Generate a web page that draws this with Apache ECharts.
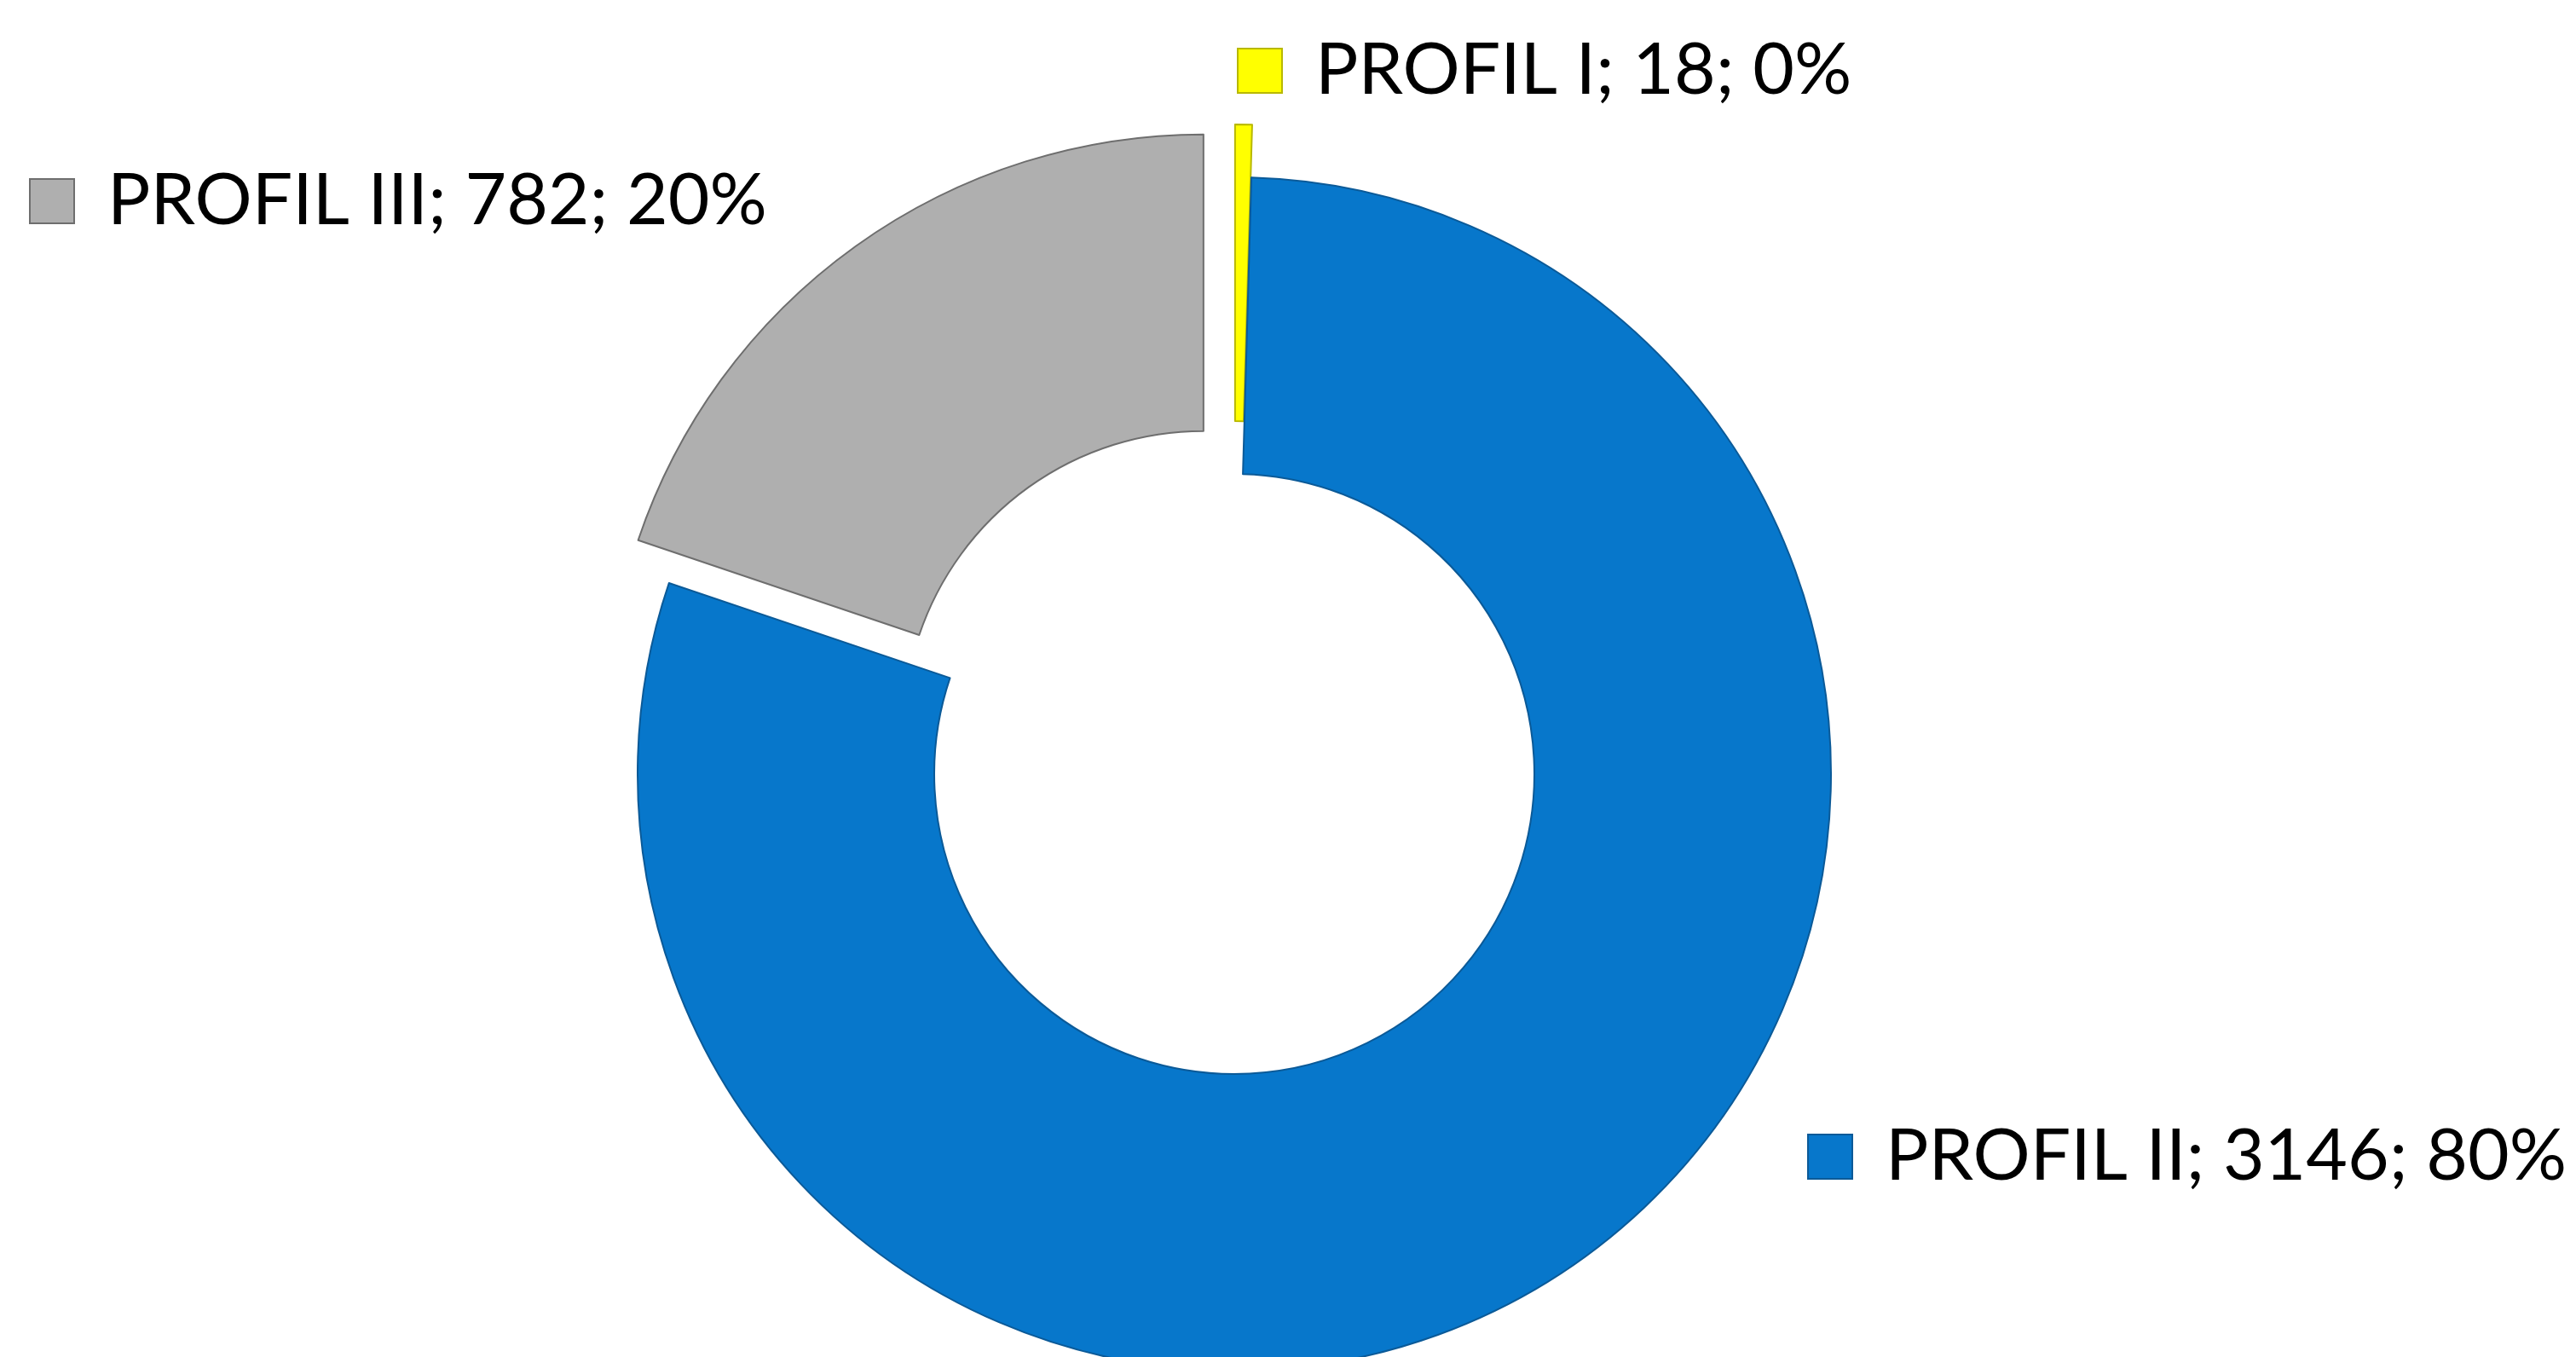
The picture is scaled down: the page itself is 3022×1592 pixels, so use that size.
<!DOCTYPE html>
<html>
<head>
<meta charset="utf-8">
<script src="https://cdn.jsdelivr.net/npm/echarts@6/dist/echarts.min.js"></script>
<style>
html,body{margin:0;padding:0;background:#fff;}
#chart{width:3022px;height:1592px;}
</style>
</head>
<body>
<div id="chart"></div>
<script>
const categories = ['PROFIL I', 'PROFIL II', 'PROFIL III'];
const values = [18, 3146, 782];
const exploded = [true, false, true];

const colors = ['#FFFF00', '#0777CB', '#AFAFAF'];
const borderColors = ['#B8B800', '#0B5A98', '#6E6E6E'];
const labelPos = [[1453, 83], [2122, 1357], [36, 236]];

const chart = echarts.init(document.getElementById('chart'), null, {renderer: 'canvas'});

const sliceData = categories.map((c, i) => ({
  name: c,
  value: values[i],
  selected: exploded[i],
  itemStyle: {color: colors[i], borderColor: borderColors[i], borderWidth: 2}
}));

const labelData = categories.map((c, i) => ({
  name: c,
  value: values[i],
  label: {
    rich: {
      m: {width: 50, height: 50, backgroundColor: colors[i], borderColor: borderColors[i], borderWidth: 2}
    }
  }
}));

chart.setOption({
  animation: false,
  backgroundColor: '#ffffff',
  series: [{
    type: 'pie',
    center: [1448, 908],
    radius: [352, 700],
    startAngle: 90,
    clockwise: true,
    selectedMode: 'multiple',
    selectedOffset: 62,
    data: sliceData,
    label: {show: false},
    labelLine: {show: false},
    emphasis: {disabled: true},
    select: {itemStyle: {}}
  }, {
    type: 'pie',
    silent: true,
    center: [1448, 908],
    radius: [352, 700],
    startAngle: 90,
    clockwise: true,
    percentPrecision: 0,
    selectedMode: false,
    avoidLabelOverlap: false,
    itemStyle: {color: 'rgba(0,0,0,0)', borderWidth: 0},
    data: labelData,
    label: {
      show: true,
      position: 'outside',
      formatter: function (p) {
        return '{m|}{s|}{t|' + p.name + '; ' + p.value + '; ' + p.percent + '%}';
      },
      rich: {
        s: {width: 40, height: 50},
        t: {fontFamily: 'Lato', fontSize: 84, color: '#000000'}
      }
    },
    labelLine: {show: false},
    labelLayout: function (params) {
      const p = labelPos[params.dataIndex];
      return {x: p[0], y: p[1], align: 'left', verticalAlign: 'middle', hideOverlap: false};
    },
    emphasis: {disabled: true}
  }]
});
</script>
</body>
</html>
